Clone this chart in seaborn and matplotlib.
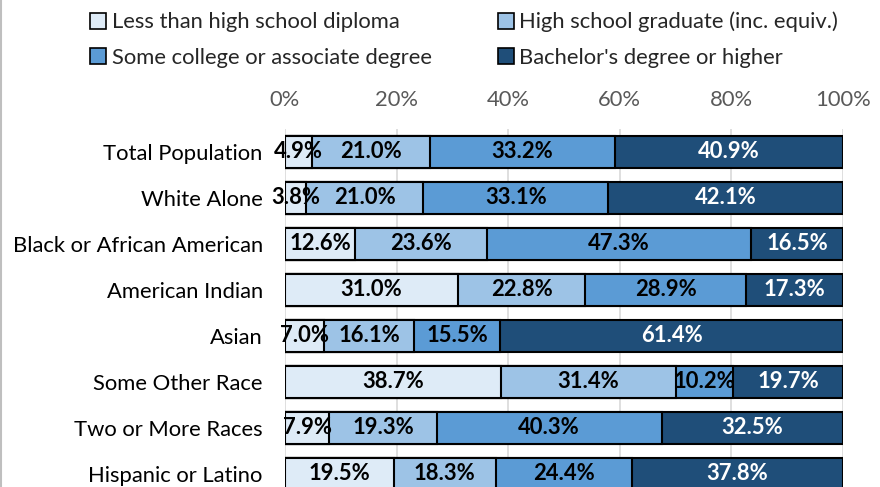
import numpy as np
import pandas as pd
import matplotlib
matplotlib.use("Agg")
import matplotlib.pyplot as plt
import seaborn as sns
from matplotlib.patches import Patch

categories = ["Total Population", "White Alone", "Black or African American",
              "American Indian", "Asian", "Some Other Race", "Two or More Races",
              "Hispanic or Latino"]
series_names = ["Less than high school diploma", "High school graduate (inc. equiv.)",
                "Some college or associate degree", "Bachelor's degree or higher"]
less_hs = [4.9, 3.8, 12.6, 31.0, 7.0, 38.7, 7.9, 19.5]
hs_grad = [21.0, 21.0, 23.6, 22.8, 16.1, 31.4, 19.3, 18.3]
some_college = [33.2, 33.1, 47.3, 28.9, 15.5, 10.2, 40.3, 24.4]
bachelor = [40.9, 42.1, 16.5, 17.3, 61.4, 19.7, 32.5, 37.8]
tick_vals = [0, 20, 40, 60, 80, 100]
tick_labels = ["0%", "20%", "40%", "60%", "80%", "100%"]

colors = ["#DEEBF7", "#9DC3E6", "#5B9BD5", "#1F4E79"]
label_colors = ["black", "black", "black", "white"]

sns.set_theme(style="white")
plt.rcParams["font.family"] = ["Lato", "DejaVu Sans"]

FS = 15.8

fig = plt.figure(figsize=(8.8, 4.87), dpi=100)
ax = fig.add_axes([285/880, (487-497)/487, 558/880, (497-129)/487])

vals = np.array([less_hs, hs_grad, some_college, bachelor])
cum = np.cumsum(vals, axis=0)
df = pd.DataFrame({"cat": categories})
for i in range(4):
    df[f"c{i}"] = cum[i]

for i in reversed(range(4)):
    sns.barplot(data=df, y="cat", x=f"c{i}", color=colors[i], orient="h",
                width=0.68, edgecolor="black", linewidth=1.5, ax=ax, zorder=2,
                saturation=1)

for i in range(4):
    lefts = cum[i] - vals[i]
    for j, cat in enumerate(categories):
        ax.text(lefts[j] + vals[i][j] / 2, j, f"{vals[i][j]:.1f}%",
                ha="center", va="center", fontsize=FS, fontweight="bold",
                color=label_colors[i], zorder=5)

ax.set_xlim(0, 100)
ax.set_xticks(tick_vals)
ax.set_xticklabels(tick_labels)
ax.xaxis.tick_top()
ax.tick_params(axis="x", length=0, colors="#595959", labelsize=FS, pad=14)
ax.tick_params(axis="y", length=0, labelsize=FS, pad=16, colors="black")
ax.set_xlabel("")
ax.set_ylabel("")
ax.grid(axis="x", color="#D9D9D9", linewidth=1.2, zorder=0)
ax.set_axisbelow(True)
for s in ax.spines.values():
    s.set_visible(False)

order = [0, 2, 1, 3]
handles = [Patch(facecolor=colors[i], edgecolor="black", linewidth=1.2, label=series_names[i])
           for i in order]
fig.legend(handles=handles, loc="upper left", bbox_to_anchor=(70/880, 1 + 8/487),
           ncol=2, frameon=False, fontsize=FS, handlelength=0.75, handleheight=0.75,
           handletextpad=0.25, columnspacing=3.0, labelspacing=0.7)

fig.add_artist(plt.Line2D([0.001, 0.001], [0, 1], color="#BFBFBF", linewidth=1.5))

fig.savefig("out.png", dpi=100)
